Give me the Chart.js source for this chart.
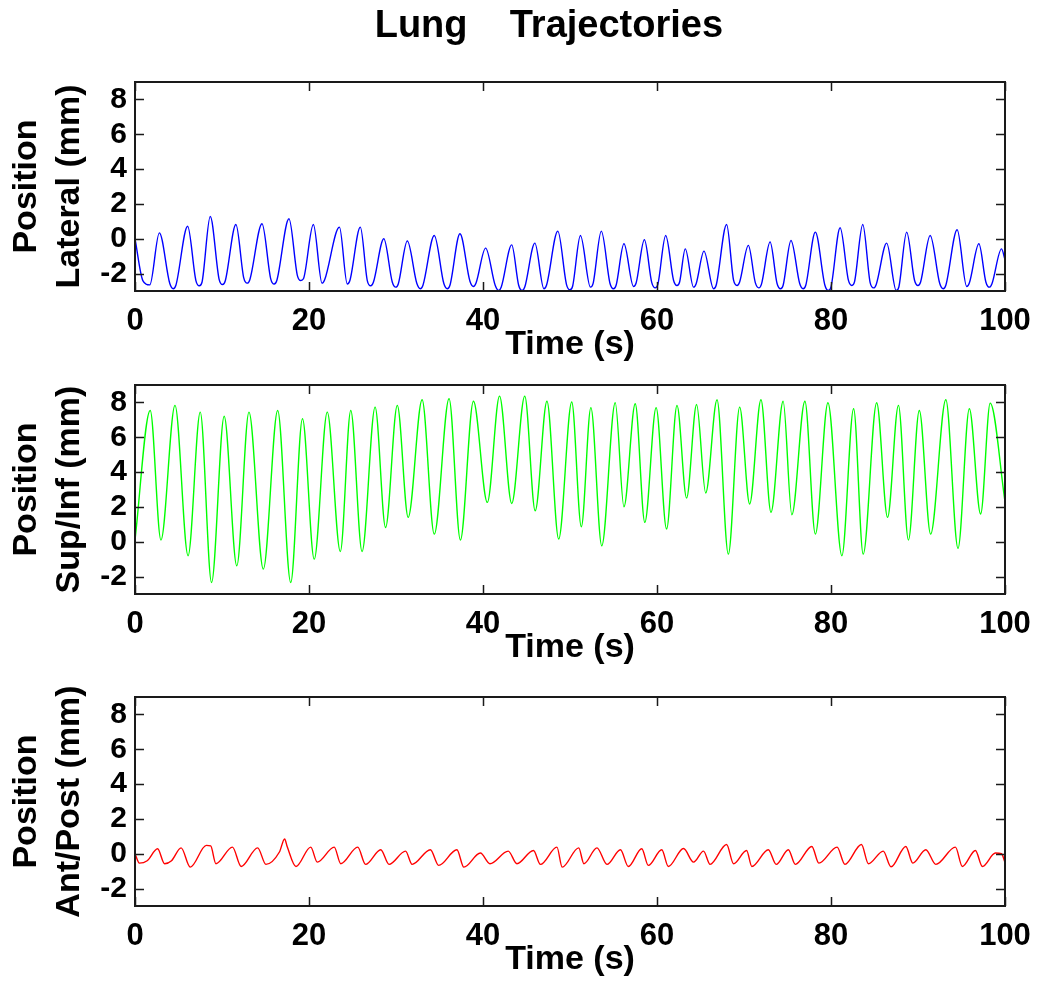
<!DOCTYPE html>
<html>
<head>
<meta charset="utf-8">
<script src="https://cdn.jsdelivr.net/npm/chart.js@4.4.1/dist/chart.umd.min.js"></script>
<style>
  html, body { margin: 0; padding: 0; background: #fff; overflow: hidden; width: 1039px; height: 992px; }
  canvas { position: absolute; left: 0; }
</style>
</head>
<body>
<canvas id="lat" width="1060" height="367" style="top:0px"></canvas>
<canvas id="si" width="1060" height="315" style="top:355px"></canvas>
<canvas id="ap" width="1060" height="315" style="top:667px"></canvas>
<script>
// tick labels
const xTicks = [0, 20, 40, 60, 80, 100];
const yTicks = [-2, 0, 2, 4, 6, 8];

// Lateral: peaks, troughs and trough shoulders (time s, mm)
const latT = [0, 0.9, 1.7, 2.8, 4.0, 4.4, 4.7, 6.05, 7.0, 7.4, 7.7, 8.65, 9.67, 10.07, 10.37, 11.6, 12.5, 12.9, 13.2, 14.6,
  15.6, 16.0, 16.3, 17.7, 18.66, 19.06, 19.36, 20.5, 21.5, 21.8, 23.5, 24.4, 24.7, 25.9, 26.7, 27.1, 27.4, 28.6, 29.57, 29.97,
  30.27, 31.3, 32.4, 32.8, 33.1, 34.4, 35.5, 35.9, 36.2, 37.35, 38.5, 38.9, 39.2, 40.3, 41.4, 41.8, 42.1, 43.3, 44.1, 44.5,
  44.8, 45.96, 47.0, 47.3, 48.6, 49.6, 50.0, 50.3, 51.2, 52.35, 52.65, 53.6, 54.6, 55.0, 55.3, 56.2, 57.3, 57.6, 58.55, 59.4,
  59.8, 60.1, 61.0, 61.9, 62.3, 62.6, 63.25, 64.2, 64.5, 65.4, 66.5, 66.8, 68.0, 68.8, 69.2, 69.5, 70.5, 71.3, 71.7, 72.0,
  73.0, 73.8, 74.2, 74.5, 75.4, 76.4, 76.8, 77.1, 78.2, 79.3, 79.7, 80.0, 81.05, 82.0, 82.4, 82.7, 83.65, 84.5, 84.9, 85.2,
  86.4, 87.5, 87.8, 88.7, 89.6, 90.0, 90.3, 91.4, 92.5, 92.9, 93.2, 94.5, 95.6, 95.9, 97.0, 97.8, 98.2, 98.5, 99.6, 100];
const latV = [0, -2.4, -2.65, 0.34, -2.57, -2.87, -2.67, 0.72, -2.4, -2.7, -2.5, 1.28, -2.33, -2.63, -2.43, 0.82, -2.25, -2.55, -2.35, 0.86,
  -2.3, -2.6, -2.4, 1.15, -2.1, -2.4, -2.3, 0.82, -2.55, -2.35, 0.67, -2.6, -2.4, 0.67, -2.4, -2.7, -2.5, 0.0, -2.48, -2.78,
  -2.58, -0.13, -2.57, -2.87, -2.67, 0.19, -2.57, -2.87, -2.67, 0.29, -2.44, -2.74, -2.54, -0.54, -2.67, -2.97, -2.77, -0.35, -2.67, -2.97,
  -2.77, -0.25, -2.87, -2.67, 0.44, -2.63, -2.93, -2.73, 0.19, -2.78, -2.58, 0.44, -2.57, -2.87, -2.67, -0.29, -2.74, -2.54, -0.06, -2.52,
  -2.82, -2.62, 0.19, -2.38, -2.68, -2.48, -0.58, -2.78, -2.58, -0.71, -2.87, -2.67, 0.82, -2.38, -2.68, -2.48, -0.38, -2.52, -2.82, -2.62,
  -0.19, -2.57, -2.87, -2.67, -0.1, -2.57, -2.87, -2.67, 0.38, -2.67, -2.97, -2.77, 0.63, -2.38, -2.68, -2.48, 0.82, -2.52, -2.82, -2.62,
  -0.25, -2.97, -2.77, 0.38, -2.38, -2.68, -2.48, 0.19, -2.57, -2.87, -2.67, 0.52, -2.74, -2.54, -0.29, -2.48, -2.78, -2.58, -0.58, -1.2];

// Sup/Inf
const siT = [0, 1.75, 2.98, 4.6, 6.1, 7.5, 8.8, 10.25, 11.7, 13.1, 14.75, 16.4, 17.9, 19.25, 20.6, 22.1, 23.6, 24.8, 26.1, 27.6,
  28.8, 30.15, 31.4, 33.0, 34.4, 36.1, 37.4, 38.9, 40.5, 41.9, 43.3, 44.8, 46.0, 47.35, 48.7, 50.2, 51.3, 52.4, 53.65, 55.2,
  56.2, 57.5, 58.6, 59.9, 61.1, 62.3, 63.4, 64.55, 65.6, 66.9, 68.2, 69.5, 70.65, 71.95, 73.1, 74.5, 75.5, 77.0, 78.2, 79.65,
  81.25, 82.6, 83.7, 85.25, 86.5, 87.75, 88.9, 90.15, 91.45, 93.2, 94.6, 95.9, 97.2, 98.3, 100];
const siV = [0.1, 7.54, 0.1, 7.83, -0.8, 7.44, -2.34, 7.21, -1.38, 7.44, -1.57, 7.54, -2.34, 7.06, -1.0, 7.44, -0.56, 7.54, -0.56, 7.73,
  0.82, 7.83, 1.4, 8.15, 0.44, 8.21, 0.1, 8.07, 2.26, 8.36, 2.2, 8.36, 1.78, 8.07, 0.16, 8.02, 0.86, 7.7, -0.23, 7.98,
  2.01, 7.92, 1.11, 7.7, 0.73, 7.83, 2.51, 7.88, 2.8, 8.15, -0.71, 7.73, 2.17, 8.15, 1.69, 8.07, 1.55, 8.07, 0.44, 7.98,
  -0.8, 7.64, -0.71, 7.98, 1.4, 7.83, 0.1, 7.54, 0.44, 8.15, -0.38, 7.64, 1.59, 7.96, 2.3];

// Ant/Post
const apT = [0, 0.5, 1.4, 2.6, 3.4, 4.2, 5.3, 6.35, 8.2, 8.7, 9.3, 11.2, 12.2, 14.1, 15.05, 16.6, 17.2, 17.5, 18.5, 20.2,
  20.95, 22.9, 23.65, 25.6, 26.5, 28.25, 29.2, 31.1, 31.85, 33.95, 34.9, 37.0, 37.8, 39.7, 40.8, 42.9, 43.9, 45.8, 46.6, 48.5,
  49.1, 51.0, 51.6, 53.1, 54.25, 55.8, 56.7, 58.25, 59.0, 60.55, 61.3, 63.05, 64.2, 65.35, 66.1, 68.0, 68.8, 70.3, 70.9, 72.8,
  73.7, 75.1, 75.9, 77.8, 78.6, 80.7, 81.6, 83.5, 84.3, 86.0, 86.9, 88.6, 89.4, 90.9, 92.05, 94.3, 95.1, 96.6, 97.4, 98.9,
  99.6, 100];
const apV = [0, -0.54, -0.4, 0.29, -0.57, -0.4, 0.34, -0.77, 0.48, 0.45, -0.57, 0.38, -0.73, 0.34, -0.61, 0.1, 0.85, 0.4, -0.73, 0.38,
  -0.48, 0.38, -0.57, 0.38, -0.61, 0.23, -0.61, 0.15, -0.61, 0.23, -0.67, 0.23, -0.77, 0.04, -0.57, 0.15, -0.57, 0.19, -0.61, 0.38,
  -0.77, 0.34, -0.57, 0.34, -0.61, 0.23, -0.73, 0.29, -0.67, 0.23, -0.73, 0.3, -0.48, 0.15, -0.61, 0.53, -0.57, 0.19, -0.73, 0.23,
  -0.61, 0.23, -0.61, 0.42, -0.54, 0.38, -0.61, 0.53, -0.57, 0.15, -0.75, 0.42, -0.54, 0.23, -0.61, 0.38, -0.73, 0.19, -0.73, 0.04,
  0.0, -0.5];

Chart.defaults.font.family = '"Liberation Sans", Arial, sans-serif';
Chart.defaults.font.weight = 'bold';
Chart.defaults.color = '#000';

// matlab style box with inward ticks on all four sides
const boxPlugin = {
  id: 'box',
  afterDatasetsDraw(chart) {
    const { ctx, chartArea: a, scales: { x, y } } = chart;
    const tl = 9;
    ctx.save();
    ctx.strokeStyle = '#1a1a1a';
    ctx.lineWidth = 1.5;
    ctx.beginPath();
    x.ticks.forEach(t => {
      const px = Math.round(x.getPixelForValue(t.value)) + 0.5;
      ctx.moveTo(px, a.bottom); ctx.lineTo(px, a.bottom - tl);
      ctx.moveTo(px, a.top); ctx.lineTo(px, a.top + tl);
    });
    y.ticks.forEach(t => {
      const py = Math.round(y.getPixelForValue(t.value)) + 0.5;
      ctx.moveTo(a.left, py); ctx.lineTo(a.left + tl, py);
      ctx.moveTo(a.right, py); ctx.lineTo(a.right - tl, py);
    });
    ctx.stroke();
    ctx.lineWidth = 2;
    ctx.strokeRect(a.left, a.top, a.right - a.left, a.bottom - a.top);
    ctx.restore();
  }
};

function makeChart(id, t, v, color, yLabel, title) {
  return new Chart(document.getElementById(id), {
    type: 'line',
    data: {
      datasets: [{
        data: t.map((tt, i) => ({ x: tt, y: v[i] })),
        borderColor: color,
        borderWidth: 1.4,
        pointRadius: 0,
        cubicInterpolationMode: 'monotone',
      }]
    },
    options: {
      responsive: false,
      animation: false,
      layout: { padding: { top: title ? 0 : 30, right: 55, left: 0, bottom: 0 } },
      plugins: {
        legend: { display: false },
        tooltip: { enabled: false },
        title: {
          display: !!title,
          text: title,
          fullSize: false,
          font: { size: 38, weight: 'bold' },
          padding: { top: 4, bottom: 32.4 },
        },
      },
      scales: {
        x: {
          type: 'linear',
          min: 0,
          max: 100,
          afterBuildTicks: s => { s.ticks = xTicks.map(value => ({ value })); },
          afterFit: s => { s.height = 76; },
          grid: { display: false, drawTicks: false },
          border: { display: false },
          ticks: { padding: 12, font: { size: 31 } },
          title: { display: true, text: 'Time (s)', font: { size: 34 }, padding: { top: 0, bottom: 2 } },
        },
        y: {
          min: -3,
          max: 9,
          afterBuildTicks: s => { s.ticks = yTicks.map(value => ({ value })); },
          afterFit: s => { s.width = 135; },
          grid: { display: false, drawTicks: false },
          border: { display: false },
          ticks: { padding: 8, font: { size: 30 } },
          title: { display: true, text: ['Position', yLabel], font: { size: 34, lineHeight: 1.24 }, padding: { top: 6, bottom: 0 } },
        },
      },
    },
    plugins: [boxPlugin],
  });
}

makeChart('lat', latT, latV, '#0000ff', 'Lateral (mm)', 'Lung    Trajectories    ');
makeChart('si', siT, siV, '#00ff00', 'Sup/Inf (mm)');
makeChart('ap', apT, apV, '#ff0000', 'Ant/Post (mm)');
</script>
</body>
</html>
